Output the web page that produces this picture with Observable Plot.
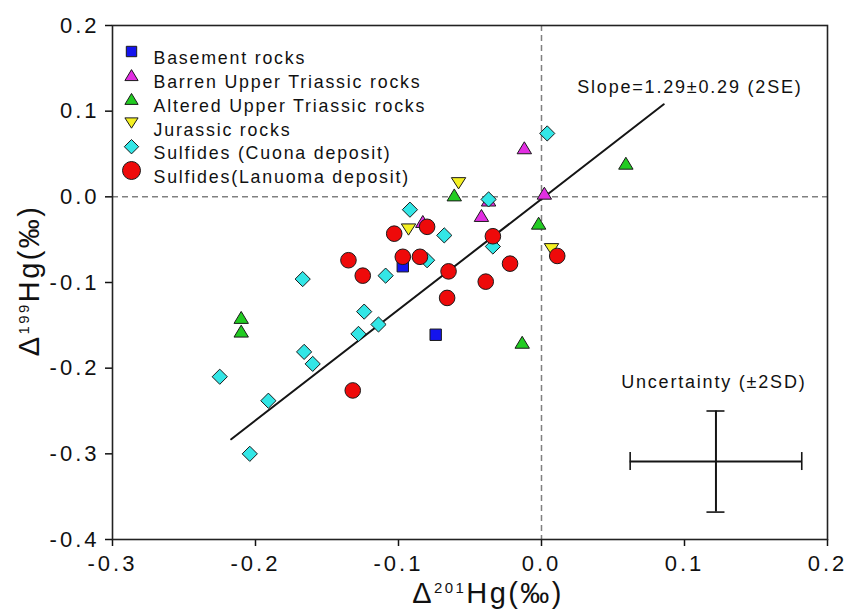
<!DOCTYPE html>
<html><head><meta charset="utf-8">
<script src="https://cdn.jsdelivr.net/npm/d3@7"></script>
<script src="https://cdn.jsdelivr.net/npm/@observablehq/plot@0.6"></script>
<style>body{margin:0;background:#fff} #chart{width:861px;height:613px}</style>
</head><body><div id="chart"></div>
<script>
// ---- data ----
const groupNames = ["Basement rocks", "Barren Upper Triassic rocks", "Altered Upper Triassic rocks", "Jurassic rocks", "Sulfides (Cuona deposit)", "Sulfides(Lanuoma deposit)"];
const groupColors = ["#1414ee", "#e22ee2", "#22cc22", "#f4f022", "#33e6e6", "#ee0a0a"];

const basementX = [-0.097, -0.074];
const basementY = [-0.081, -0.161];
const barrenX = [-0.012, 0.002, -0.042, -0.037, -0.083];
const barrenY = [0.057, 0.004, -0.022, -0.004, -0.029];
const alteredX = [0.059, -0.061, -0.002, -0.210, -0.210, -0.0135];
const alteredY = [0.039, 0.002, -0.031, -0.141, -0.157, -0.170];
const jurassicX = [-0.058, -0.093, 0.007];
const jurassicY = [0.016, -0.038, -0.061];
const cuonaX = [0.004, -0.037, -0.092, -0.068, -0.080, -0.034, -0.109, -0.167, -0.124, -0.114, -0.128, -0.166, -0.160, -0.225, -0.191, -0.204];
const cuonaY = [0.074, -0.003, -0.015, -0.045, -0.074, -0.058, -0.092, -0.096, -0.134, -0.149, -0.160, -0.181, -0.195, -0.210, -0.238, -0.300];
const lanuomaX = [-0.080, -0.103, -0.034, -0.135, -0.097, -0.085, -0.125, -0.065, -0.022, 0.011, -0.039, -0.066, -0.132];
const lanuomaY = [-0.035, -0.043, -0.046, -0.074, -0.070, -0.070, -0.092, -0.087, -0.078, -0.069, -0.099, -0.118, -0.226];

const fitX = [-0.217, 0.0855];
const fitY = [-0.283, 0.108];
const slopeLabel = "Slope=1.29±0.29 (2SE)";
const slopePos = [0.025, 0.1276];
const uncLabel = "Uncertainty (±2SD)";
const uncLabelPos = [0.1205, -0.2166];
const uncCenter = [0.122, -0.309];
const uncErr = [0.06, 0.059];
const xTicks = [-0.3, -0.2, -0.1, 0, 0.1, 0.2];
const yTicks = [0.2, 0.1, 0, -0.1, -0.2, -0.3, -0.4];
const xTitleSup = "201", yTitleSup = "199";

// ---- symbols ----
const rad = s => Math.sqrt(s / Math.PI);
const symSquare = {draw(c, s) { const r = rad(s); c.moveTo(-r, -r); c.lineTo(r, -r); c.lineTo(r, r); c.lineTo(-r, r); c.closePath(); }};
const symTriUp = {draw(c, s) { const r = rad(s); c.moveTo(0, -0.86 * r); c.lineTo(r, 0.8 * r); c.lineTo(-r, 0.8 * r); c.closePath(); }};
const symTriDown = {draw(c, s) { const r = rad(s); c.moveTo(0, 0.8 * r); c.lineTo(r, -0.76 * r); c.lineTo(-r, -0.76 * r); c.closePath(); }};
const symDiamond = {draw(c, s) { const r = rad(s); c.moveTo(0, -r); c.lineTo(r, 0); c.lineTo(0, r); c.lineTo(-r, 0); c.closePath(); }};
const symCircle = {draw(c, s) { const r = rad(s); c.moveTo(r, 0); c.arc(0, 0, r, 0, 2 * Math.PI); }};

const groupData = [
  [basementX, basementY], [barrenX, barrenY], [alteredX, alteredY],
  [jurassicX, jurassicY], [cuonaX, cuonaY], [lanuomaX, lanuomaY]
].map(([xs, ys]) => xs.map((x, i) => ({x, y: ys[i]})));
const groupSymbols = [symSquare, symTriUp, symTriUp, symTriDown, symDiamond, symCircle];
const groupR = [5.7, 7.2, 7.2, 7.2, 7.6, 7.8];
const legendR = [5.2, 6.6, 6.6, 6.6, 7.2, 9];

const fitData = fitX.map((x, i) => ({x, y: fitY[i]}));
const [ux, uy] = uncCenter, [ex, ey] = uncErr;

const marks = [
  Plot.ruleX([0], {stroke: "#808080", strokeWidth: 1.5, strokeDasharray: "6,4"}),
  Plot.ruleY([0], {stroke: "#808080", strokeWidth: 1.5, strokeDasharray: "6,4"}),
  Plot.line(fitData, {x: "x", y: "y", stroke: "#151515", strokeWidth: 2}),
  Plot.text([{x: slopePos[0], y: slopePos[1], t: slopeLabel}], {x: "x", y: "y", text: "t", textAnchor: "start", fontSize: 18, fill: "#111"}),
  Plot.text([{x: uncLabelPos[0], y: uncLabelPos[1], t: uncLabel}], {x: "x", y: "y", text: "t", textAnchor: "middle", fontSize: 18, fill: "#111"}),
  Plot.ruleY([{y: uy, x1: ux - ex, x2: ux + ex}], {y: "y", x1: "x1", x2: "x2", stroke: "#151515", strokeWidth: 2}),
  Plot.ruleX([{x: ux, y1: uy - ey, y2: uy + ey}], {x: "x", y1: "y1", y2: "y2", stroke: "#151515", strokeWidth: 2}),
  Plot.ruleX([{x: ux - ex, y1: uy - 0.0105, y2: uy + 0.0105}, {x: ux + ex, y1: uy - 0.0105, y2: uy + 0.0105}], {x: "x", y1: "y1", y2: "y2", stroke: "#151515", strokeWidth: 1.6}),
  Plot.ruleY([{y: uy - ey, x1: ux - 0.0063, x2: ux + 0.0063}, {y: uy + ey, x1: ux - 0.0063, x2: ux + 0.0063}], {y: "y", x1: "x1", x2: "x2", stroke: "#151515", strokeWidth: 1.6}),
];

groupData.forEach((data, i) => {
  marks.push(Plot.dot(data, {x: "x", y: "y", symbol: groupSymbols[i], r: groupR[i], fill: groupColors[i], stroke: "#1a1a1a", strokeWidth: 1}));
});

// legend
groupNames.forEach((name, i) => {
  const dy = 26 + 23.8 * i;
  marks.push(Plot.dot([0], {frameAnchor: "top-left", dx: 19, dy, symbol: groupSymbols[i], r: legendR[i], fill: groupColors[i], stroke: "#1a1a1a", strokeWidth: 1}));
  marks.push(Plot.text([name], {frameAnchor: "top-left", dx: 41, dy, text: d => d, textAnchor: "start", fontSize: 17.8, fill: "#111"}));
});

marks.push(
  Plot.axisX({ticks: xTicks, tickSize: 7, tickPadding: 9, tickFormat: d => d.toFixed(1), fontSize: 22, label: null, strokeWidth: 1.5}),
  Plot.axisY({ticks: yTicks, tickSize: 7, tickPadding: 6, tickFormat: d => d.toFixed(1), fontSize: 22, label: null, strokeWidth: 1.5}),
  Plot.frame({stroke: "#222", strokeWidth: 1.6}),
  Plot.text(["XTITLE"], {frameAnchor: "bottom", dx: 18, dy: 63, text: d => d, fontSize: 29, fill: "#111"}),
  Plot.text(["YTITLE"], {frameAnchor: "left", dx: -83, dy: -2, rotate: -90, textAnchor: "middle", lineAnchor: "middle", text: d => d, fontSize: 29, fill: "#111"})
);

const chart = Plot.plot({
  width: 861, height: 613,
  marginLeft: 112, marginRight: 34, marginTop: 25, marginBottom: 74,
  x: {domain: [-0.3, 0.2], axis: null},
  y: {domain: [-0.4, 0.2], axis: null},
  style: {fontFamily: "'Liberation Sans', Arial, sans-serif", background: "#fff", color: "#111"},
  marks
});
document.getElementById("chart").appendChild(chart);

const svg = d3.select(chart);
svg.selectAll("text").attr("letter-spacing", "1.8px");
svg.selectAll("text").filter(function() { return /^-?\d\.\d$/.test(this.textContent.trim()); }).attr("letter-spacing", "3px");

function titleWithSup(sel, sup) {
  sel.text(null);
  sel.append("tspan").text("Δ");
  sel.append("tspan").attr("font-size", 15).attr("dy", -10).text(sup);
  sel.append("tspan").attr("dy", 10).text("Hg(‰)");
  sel.attr("letter-spacing", "2.4px");
}
titleWithSup(svg.selectAll("text").filter(function() { return this.textContent === "XTITLE"; }), xTitleSup);
titleWithSup(svg.selectAll("text").filter(function() { return this.textContent === "YTITLE"; }), yTitleSup);
</script>
</body></html>
